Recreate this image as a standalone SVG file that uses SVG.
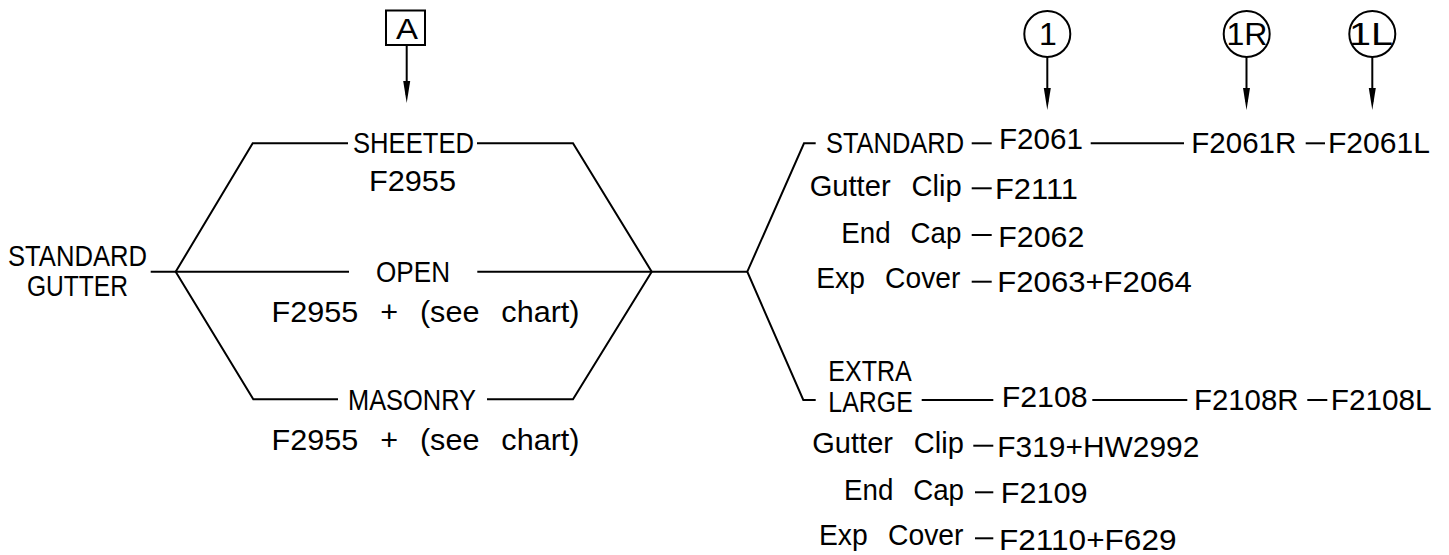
<svg xmlns="http://www.w3.org/2000/svg" width="1449" height="555" viewBox="0 0 1449 555">
<style>
  .ln{fill:none;stroke:#000;stroke-width:2;stroke-linecap:butt;stroke-linejoin:miter}
  .t{font-family:"Liberation Sans",Arial,sans-serif;font-size:29.5px;fill:#000}
  .ws{word-spacing:13px}
  .sym{fill:#fff;stroke:#000;stroke-width:2}
  .lbl{font-size:32px}
</style>
<defs>
  <marker id="arr" markerUnits="userSpaceOnUse" markerWidth="24" markerHeight="10" refX="14" refY="4" orient="auto" overflow="visible">
    <path d="M0,0.5 L22,4 L0,7.5 Z" fill="#000"/>
  </marker>
</defs>
<rect width="1449" height="555" fill="#fff"/>

<g id="connectors">
  <line class="ln" x1="150.7" y1="271.7" x2="349" y2="271.7"/>
  <line class="ln" x1="477.3" y1="271.7" x2="747.3" y2="271.7"/>
  <polyline class="ln" points="348,143.3 252.7,143.3 175.7,271.7 253.3,399.3 338,399.3"/>
  <polyline class="ln" points="477,143.3 573,143.3 651.7,271.7 573,399.3 487,399.3"/>
  <polyline class="ln" points="815.7,143.3 804,143.3 747.3,271.7 803.3,400 815.7,400"/>
  <line class="ln" x1="971.7" y1="143.3" x2="991.7" y2="143.3"/>
  <line class="ln" x1="1090.7" y1="143.3" x2="1184" y2="143.3"/>
  <line class="ln" x1="1305.7" y1="143.3" x2="1325" y2="143.3"/>
  <line class="ln" x1="971.7" y1="188.3" x2="991.7" y2="188.3"/>
  <line class="ln" x1="971.7" y1="235" x2="991.7" y2="235"/>
  <line class="ln" x1="971.7" y1="281.7" x2="991.7" y2="281.7"/>
  <line class="ln" x1="921.7" y1="400" x2="993.3" y2="400"/>
  <line class="ln" x1="1092.3" y1="400" x2="1187.3" y2="400"/>
  <line class="ln" x1="1307.3" y1="400" x2="1327.3" y2="400"/>
  <line class="ln" x1="973.3" y1="445.7" x2="993.3" y2="445.7"/>
  <line class="ln" x1="975" y1="492.3" x2="993.3" y2="492.3"/>
  <line class="ln" x1="975" y1="538.3" x2="993.3" y2="538.3"/>
  <line class="ln" x1="406.7" y1="45" x2="406.7" y2="95" marker-end="url(#arr)"/>
  <line class="ln" x1="1047.3" y1="57" x2="1047.3" y2="102" marker-end="url(#arr)"/>
  <line class="ln" x1="1246.5" y1="57" x2="1246.5" y2="102" marker-end="url(#arr)"/>
  <line class="ln" x1="1372.3" y1="57" x2="1372.3" y2="102" marker-end="url(#arr)"/>
</g>

<g id="ref-A">
  <rect class="sym" x="386" y="10.5" width="39" height="34.5"/>
  <text class="t" x="396" y="39" font-size="33" textLength="22" lengthAdjust="spacingAndGlyphs">A</text>
</g>
<g id="ref-1">
  <circle class="sym" cx="1047.3" cy="34" r="23"/>
  <text class="t lbl" x="1048" y="45" text-anchor="middle">1</text>
</g>
<g id="ref-1R">
  <circle class="sym" cx="1246.7" cy="34" r="23"/>
  <text class="t lbl" x="1226.5" y="45" textLength="41" lengthAdjust="spacingAndGlyphs">1R</text>
</g>
<g id="ref-1L">
  <circle class="sym" cx="1372.3" cy="34" r="23"/>
  <text class="t lbl" x="1349" y="45" textLength="44" lengthAdjust="spacingAndGlyphs">1L</text>
</g>

<g id="standard-gutter">
  <text class="t" x="8" y="265.5" textLength="139" lengthAdjust="spacingAndGlyphs">STANDARD</text>
  <text class="t" x="27" y="296" textLength="101" lengthAdjust="spacingAndGlyphs">GUTTER</text>
</g>
<g id="sheeted">
  <text class="t" x="353" y="153" textLength="121" lengthAdjust="spacingAndGlyphs">SHEETED</text>
  <text class="t" x="369" y="191" textLength="87" lengthAdjust="spacingAndGlyphs">F2955</text>
</g>
<g id="open">
  <text class="t" x="376" y="282" textLength="74" lengthAdjust="spacingAndGlyphs">OPEN</text>
  <text class="t ws" x="271.5" y="321.7" textLength="308" lengthAdjust="spacingAndGlyphs">F2955 + (see chart)</text>
</g>
<g id="masonry">
  <text class="t" x="348" y="410" textLength="128" lengthAdjust="spacingAndGlyphs">MASONRY</text>
  <text class="t ws" x="271.5" y="450" textLength="308" lengthAdjust="spacingAndGlyphs">F2955 + (see chart)</text>
</g>

<g id="standard">
  <text class="t" x="826" y="153" textLength="138" lengthAdjust="spacingAndGlyphs">STANDARD</text>
</g>
<g id="f2061">
  <text class="t" x="999" y="149.3" textLength="84" lengthAdjust="spacingAndGlyphs">F2061</text>
</g>
<g id="f2061r">
  <text class="t" x="1191.3" y="153" textLength="105" lengthAdjust="spacingAndGlyphs">F2061R</text>
</g>
<g id="f2061l">
  <text class="t" x="1328" y="153" textLength="102" lengthAdjust="spacingAndGlyphs">F2061L</text>
</g>
<g id="std-gutter-clip">
  <text class="t ws" x="809.7" y="196.3" textLength="152" lengthAdjust="spacingAndGlyphs">Gutter Clip</text>
  <text class="t" x="995" y="199.3" textLength="83" lengthAdjust="spacingAndGlyphs">F2111</text>
</g>
<g id="std-end-cap">
  <text class="t ws" x="841.3" y="243.3" textLength="120" lengthAdjust="spacingAndGlyphs">End Cap</text>
  <text class="t" x="998.3" y="246.7" textLength="86" lengthAdjust="spacingAndGlyphs">F2062</text>
</g>
<g id="std-exp-cover">
  <text class="t ws" x="816.3" y="288.3" textLength="144" lengthAdjust="spacingAndGlyphs">Exp Cover</text>
  <text class="t" x="997.3" y="291.7" textLength="194.5" lengthAdjust="spacingAndGlyphs">F2063+F2064</text>
</g>

<g id="extra-large">
  <text class="t" x="828.3" y="381" textLength="83.5" lengthAdjust="spacingAndGlyphs">EXTRA</text>
  <text class="t" x="828.3" y="411.7" textLength="84.5" lengthAdjust="spacingAndGlyphs">LARGE</text>
</g>
<g id="f2108">
  <text class="t" x="1001.7" y="406.7" textLength="86" lengthAdjust="spacingAndGlyphs">F2108</text>
</g>
<g id="f2108r">
  <text class="t" x="1194" y="410" textLength="104.5" lengthAdjust="spacingAndGlyphs">F2108R</text>
</g>
<g id="f2108l">
  <text class="t" x="1330.7" y="410" textLength="101" lengthAdjust="spacingAndGlyphs">F2108L</text>
</g>
<g id="xl-gutter-clip">
  <text class="t ws" x="812.3" y="453.3" textLength="151.5" lengthAdjust="spacingAndGlyphs">Gutter Clip</text>
  <text class="t" x="997.3" y="456.7" textLength="202" lengthAdjust="spacingAndGlyphs">F319+HW2992</text>
</g>
<g id="xl-end-cap">
  <text class="t ws" x="844" y="500" textLength="120" lengthAdjust="spacingAndGlyphs">End Cap</text>
  <text class="t" x="1000.7" y="503.3" textLength="87" lengthAdjust="spacingAndGlyphs">F2109</text>
</g>
<g id="xl-exp-cover">
  <text class="t ws" x="819" y="545" textLength="144.5" lengthAdjust="spacingAndGlyphs">Exp Cover</text>
  <text class="t" x="999" y="550" textLength="177.5" lengthAdjust="spacingAndGlyphs">F2110+F629</text>
</g>
</svg>
